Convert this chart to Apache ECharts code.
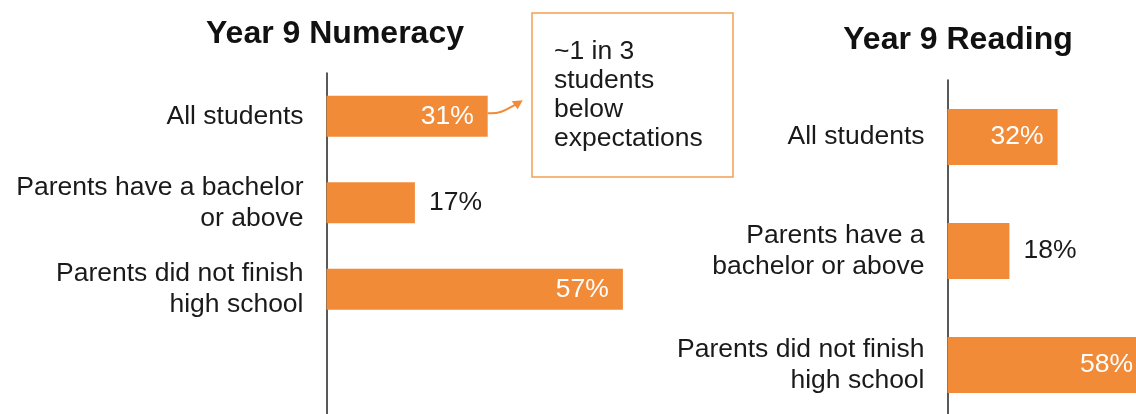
<!DOCTYPE html>
<html>
<head>
<meta charset="utf-8">
<script src="https://cdn.jsdelivr.net/npm/echarts@6/dist/echarts.min.js"></script>
<style>
html,body{margin:0;padding:0;background:#fff;}
#chart{width:1136px;height:414px;}
</style>
</head>
<body>
<div id="chart"></div>
<script>
// ---- data ----
var numeracyTitle = 'Year 9 Numeracy';
var readingTitle = 'Year 9 Reading';
var numeracyCategories = ['All students', 'Parents have a bachelor\nor above', 'Parents did not finish\nhigh school'];
var readingCategories = ['All students', 'Parents have a\nbachelor or above', 'Parents did not finish\nhigh school'];
var numeracyValues = [31, 17, 57];
var readingValues = [32, 18, 58];
var calloutText = '~1 in 3\nstudents\nbelow\nexpectations';

var ORANGE = '#F28B38';
var FONT = '"Liberation Sans", Arial, Helvetica, sans-serif';

function items(vals) {
  return vals.map(function (v) {
    var outside = v < 25;
    return {
      value: v,
      label: outside
        ? { position: 'right', distance: 14, color: '#1a1a1a' }
        : { position: 'insideRight', distance: 14, color: '#ffffff' }
    };
  });
}

function catAxis(idx, cats, extraMax) {
  var ax = {
    type: 'category',
    gridIndex: idx,
    data: cats,
    inverse: true,
    axisLine: { show: true, lineStyle: { color: '#222', width: 1.5 } },
    axisTick: { show: false },
    axisLabel: {
      margin: 23,
      fontFamily: FONT,
      fontSize: 26.5,
      lineHeight: 31,
      color: '#1a1a1a',
      align: 'right',
      formatter: function (v) { return cats.indexOf(v) >= 0 ? v : ''; }
    },
    splitLine: { show: false }
  };
  if (extraMax != null) { ax.max = extraMax; }
  return ax;
}

var chart = echarts.init(document.getElementById('chart'), null, { renderer: 'canvas' });

var option = {
  animation: false,
  backgroundColor: '#ffffff',
  title: [
    { text: numeracyTitle, left: 330, top: 13, textAlign: 'center',
      textStyle: { fontFamily: FONT, fontSize: 32, fontWeight: 'bold', color: '#111' } },
    { text: readingTitle, left: 953, top: 19, textAlign: 'center',
      textStyle: { fontFamily: FONT, fontSize: 32, fontWeight: 'bold', color: '#111' } }
  ],
  grid: [
    { left: 326.5, top: 73, width: 520, bottom: -5, outerBoundsMode: 'none', containLabel: false },
    { left: 947.5, top: 80, width: 344, bottom: -8, outerBoundsMode: 'none', containLabel: false }
  ],
  xAxis: [
    { type: 'value', gridIndex: 0, min: 0, max: 100, show: false },
    { type: 'value', gridIndex: 1, min: 0, max: 100, show: false }
  ],
  yAxis: [
    catAxis(0, numeracyCategories, numeracyCategories.length),
    catAxis(1, readingCategories, null)
  ],
  series: [
    {
      type: 'bar', xAxisIndex: 0, yAxisIndex: 0,
      data: items(numeracyValues),
      barWidth: 41,
      itemStyle: { color: ORANGE },
      label: { show: true, fontFamily: FONT, fontSize: 26.5, formatter: '{c}%' }
    },
    {
      type: 'bar', xAxisIndex: 1, yAxisIndex: 1,
      data: items(readingValues),
      barWidth: 56,
      itemStyle: { color: ORANGE },
      label: { show: true, fontFamily: FONT, fontSize: 26.5, formatter: '{c}%' }
    }
  ]
};
chart.setOption(option);

// annotation: arrow from end of first numeracy bar to callout box
var p = chart.convertToPixel({ xAxisIndex: 0, yAxisIndex: 0 }, [numeracyValues[0], 0]);
var sx = p[0], sy = p[1] - 3;
var tx = sx + 35, ty = sy - 13;
chart.setOption({
  graphic: [
    {
      type: 'bezierCurve',
      shape: { x1: sx, y1: sy, x2: tx - 4, y2: ty + 3, cpx1: sx + 16, cpy1: sy + 1, cpx2: tx - 14, cpy2: ty + 7 },
      style: { stroke: ORANGE, lineWidth: 2, fill: null }
    },
    {
      type: 'polygon',
      shape: { points: [[tx, ty], [tx - 11, ty + 1], [tx - 5, ty + 9]] },
      style: { fill: ORANGE }
    },
    {
      type: 'rect',
      shape: { x: 532, y: 13, width: 201, height: 164 },
      style: { fill: '#fff', stroke: '#F5A050', lineWidth: 1.5 }
    },
    {
      type: 'text',
      x: 554, y: 95,
      style: {
        text: calloutText,
        fontFamily: FONT, fontSize: 26.5, lineHeight: 29,
        fill: '#1a1a1a', verticalAlign: 'middle', align: 'left'
      }
    }
  ]
});
</script>
</body>
</html>
